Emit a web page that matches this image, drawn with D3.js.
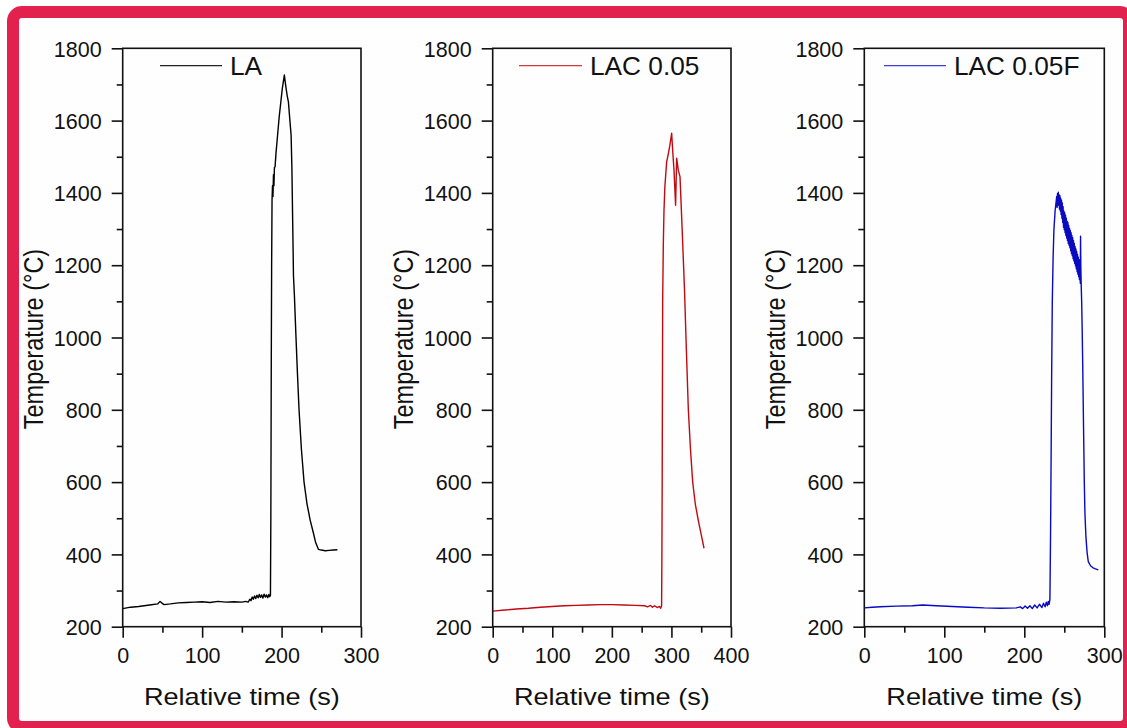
<!DOCTYPE html>
<html>
<head>
<meta charset="utf-8">
<script src="https://cdn.jsdelivr.net/npm/d3@7"></script>
<style>
  html, body { margin: 0; padding: 0; background: #ffffff; }
  svg { display: block; }
  text { font-family: Arial, "Liberation Sans", sans-serif; fill: #111; }
</style>
</head>
<body>
<svg id="chart" width="1127" height="728"></svg>
<script>
// ---------- DATA ----------
const seriesNames = ["LA", "LAC 0.05", "LAC 0.05F"];

const laTime = [0, 10, 20, 34, 44, 47, 49, 52, 60, 70, 80, 90, 100, 110, 120, 130, 140, 150, 155, 158, 160, 161.5, 163, 164.5, 166, 167.5, 169, 170.5, 172, 173.5, 175, 176.5, 178, 179.5, 181, 182.5, 184, 185, 186, 186.5, 187, 187.5, 188, 188.6, 189.2, 189.8, 190.4, 191, 191.8, 193, 195, 197, 199, 201, 203.5, 205, 207, 208.6, 210.5, 212, 213, 214, 215, 216.1, 218, 220, 222, 225, 228.3, 232, 236, 240, 243, 246.4, 250, 255, 260, 265, 270.3];
const laTemp = [250, 254, 256, 260, 263, 270, 266, 261, 263, 266, 267, 268, 269, 267, 270, 268, 269, 268, 270, 268, 276, 272, 282, 276, 285, 278, 287, 280, 289, 281, 288, 279, 290, 282, 288, 280, 289, 283, 286, 500, 900, 1200, 1380, 1420, 1390, 1450, 1420, 1470, 1472, 1510, 1560, 1610, 1650, 1690, 1726, 1700, 1670, 1652, 1600, 1560, 1470, 1320, 1170, 1120, 1010, 900, 800, 690, 600, 540, 495, 460, 432, 414, 412, 410, 411, 412, 413];

const lac005Time = [0, 20, 40, 60, 80, 100, 120, 140, 160, 180, 200, 220, 240, 255, 260, 265, 268, 272, 276, 280, 282, 283.5, 284, 284.5, 285.3, 286.4, 287.5, 289, 292, 295, 297, 300.4, 302, 304.3, 307, 308.8, 311.5, 314.4, 318, 322, 325, 328.4, 332, 335.7, 340, 345, 350, 354.7];
const lac005Temp = [243, 246, 249, 251, 254, 256, 258, 259, 260, 261, 261, 260, 259, 258, 255, 259, 254, 258, 253, 256, 251, 258, 400, 600, 1100, 1260, 1350, 1417, 1486, 1510, 1528, 1565, 1520, 1463, 1366, 1496, 1463, 1445, 1300, 1130, 970, 800, 690, 600, 540, 495, 455, 417];

const lac005fTime = [0, 10, 20, 40, 60, 73, 90, 110, 130, 150, 170, 190, 195, 198, 201, 204, 207, 210, 213, 216, 219, 222, 224, 226, 227.5, 229, 230, 231, 232, 232.8, 233.4, 234.2, 235, 236, 237, 238.5, 240.5, 241, 241.5, 242, 242.5, 243, 243.5, 244, 244.5, 245, 245.5, 246, 246.5, 247, 247.5, 248, 248.5, 249, 249.5, 250, 250.5, 251, 251.5, 252, 252.5, 253, 253.5, 254, 254.5, 255, 255.5, 256, 256.5, 257, 257.5, 258, 258.5, 259, 259.5, 260, 260.5, 261, 261.5, 262, 262.5, 263, 263.5, 264, 264.5, 265, 265.5, 266, 266.5, 267, 267.5, 268, 268.5, 269, 269.5, 270, 270.3, 270.7, 271.2, 271.7, 272.3, 273, 274, 275, 275.8, 277, 278.5, 280, 283, 286, 289, 292.5];
const lac005fTemp = [252, 254, 255, 257, 258, 260, 258, 256, 254, 252, 251, 252, 255, 250, 257, 251, 258, 250, 260, 252, 262, 253, 265, 255, 268, 258, 270, 262, 275, 450, 633, 900, 1100, 1220, 1297, 1350, 1390, 1360, 1398, 1365, 1402, 1370, 1395, 1355, 1392, 1350, 1385, 1340, 1380, 1330, 1372, 1318, 1362, 1305, 1350, 1298, 1345, 1290, 1338, 1282, 1330, 1275, 1322, 1268, 1318, 1260, 1310, 1255, 1302, 1248, 1296, 1240, 1290, 1232, 1282, 1226, 1276, 1218, 1268, 1212, 1260, 1205, 1252, 1198, 1245, 1190, 1238, 1182, 1230, 1175, 1222, 1168, 1215, 1160, 1205, 1150, 1280, 1190, 1140, 1100, 1030, 929, 760, 600, 514, 450, 405, 380, 368, 363, 360, 357];

const xDomains = [[0, 300], [0, 400], [0, 300]];
const xMajorTicks = [[0, 100, 200, 300], [0, 100, 200, 300, 400], [0, 100, 200, 300]];
const xMinorTicks = [[50, 150, 250], [50, 150, 250, 350], [50, 150, 250]];
const yDomain = [200, 1800];
const yMajorTicks = [200, 400, 600, 800, 1000, 1200, 1400, 1600, 1800];
const yMinorTicks = [300, 500, 700, 900, 1100, 1300, 1500, 1700];
const xTitle = "Relative time (s)";
const yTitle = "Temperature (°C)";

// ---------- LAYOUT / STYLE ----------
const seriesColors = ["#000000", "#C00A10", "#0A0AC0"];
const legendColors = ["#222222", "#D03A3A", "#4040D8"];
const panelLeft = [122.7, 492.7, 864.3];
const panelRight = [361, 731, 1104.3];
const plotTop = 48.3, plotBottom = 626.7;
const legendLineX = [[37.3, 99.3], [26.3, 89.3], [19.7, 81.7]];
const legendTextX = [107.3, 97.3, 89.7];

const seriesTime = [laTime, lac005Time, lac005fTime];
const seriesTemp = [laTemp, lac005Temp, lac005fTemp];

const svg = d3.select("#chart");

// outer rounded border
svg.append("rect")
  .attr("x", 13).attr("y", 12).attr("width", 1116).attr("height", 715)
  .attr("rx", 9).attr("ry", 9)
  .attr("fill", "#fefefe").attr("stroke", "#E3214F").attr("stroke-width", 12);

const y = d3.scaleLinear().domain(yDomain).range([plotBottom, plotTop]);

seriesNames.forEach((name, i) => {
  const x = d3.scaleLinear().domain(xDomains[i]).range([panelLeft[i], panelRight[i]]);
  const g = svg.append("g");

  // curve
  const pts = seriesTime[i].map((t, k) => [t, seriesTemp[i][k]]);
  g.append("path")
    .datum(pts)
    .attr("fill", "none")
    .attr("stroke", seriesColors[i])
    .attr("stroke-width", 1.4)
    .attr("stroke-linejoin", "round")
    .attr("d", d3.line().x(d => x(d[0])).y(d => y(d[1])));

  // y axis major
  const yAx = g.append("g").attr("transform", `translate(${panelLeft[i]},0)`)
    .call(d3.axisLeft(y).tickValues(yMajorTicks).tickSize(11).tickPadding(10).tickFormat(d3.format("d")));
  yAx.select(".domain").remove();
  yAx.selectAll("line").attr("stroke", "#111").attr("stroke-width", 1.6);
  yAx.selectAll("text").attr("font-size", 21.5).attr("fill", "#111")
    .attr("font-family", "Arial, 'Liberation Sans', sans-serif")
    .attr("x", -21).attr("dy", "0.36em");

  const yMin = g.append("g").attr("transform", `translate(${panelLeft[i]},0)`)
    .call(d3.axisLeft(y).tickValues(yMinorTicks).tickSize(6).tickFormat(""));
  yMin.select(".domain").remove();
  yMin.selectAll("line").attr("stroke", "#111").attr("stroke-width", 1.6);

  // x axis major
  const xAx = g.append("g").attr("transform", `translate(0,${plotBottom})`)
    .call(d3.axisBottom(x).tickValues(xMajorTicks[i]).tickSize(11).tickFormat(d3.format("d")));
  xAx.select(".domain").remove();
  xAx.selectAll("line").attr("stroke", "#111").attr("stroke-width", 1.6);
  xAx.selectAll("text").attr("font-size", 21.5).attr("fill", "#111")
    .attr("font-family", "Arial, 'Liberation Sans', sans-serif")
    .attr("y", 36.6).attr("dy", 0);

  const xMin = g.append("g").attr("transform", `translate(0,${plotBottom})`)
    .call(d3.axisBottom(x).tickValues(xMinorTicks[i]).tickSize(6).tickFormat(""));
  xMin.select(".domain").remove();
  xMin.selectAll("line").attr("stroke", "#111").attr("stroke-width", 1.6);

  // frame
  g.append("rect")
    .attr("x", panelLeft[i]).attr("y", plotTop)
    .attr("width", panelRight[i] - panelLeft[i]).attr("height", plotBottom - plotTop)
    .attr("fill", "none").attr("stroke", "#111").attr("stroke-width", 1.6);

  // x title
  g.append("text")
    .attr("transform", `translate(${(panelLeft[i] + panelRight[i]) / 2},705) scale(1.18,1)`)
    .attr("text-anchor", "middle").attr("font-size", 23)
    .text(xTitle);

  // y title
  g.append("text")
    .attr("transform", `translate(${panelLeft[i] - 79.7},339) scale(1.18,1) rotate(-90)`)
    .attr("text-anchor", "middle").attr("font-size", 23.5)
    .text(yTitle);

  // legend
  g.append("line")
    .attr("x1", panelLeft[i] + legendLineX[i][0]).attr("x2", panelLeft[i] + legendLineX[i][1])
    .attr("y1", 65.7).attr("y2", 65.7)
    .attr("stroke", legendColors[i]).attr("stroke-width", 1.3);
  g.append("text")
    .attr("transform", `translate(${panelLeft[i] + legendTextX[i]},75) scale(1.05,1)`)
    .attr("font-size", 25)
    .text(name);
});
</script>
</body>
</html>
